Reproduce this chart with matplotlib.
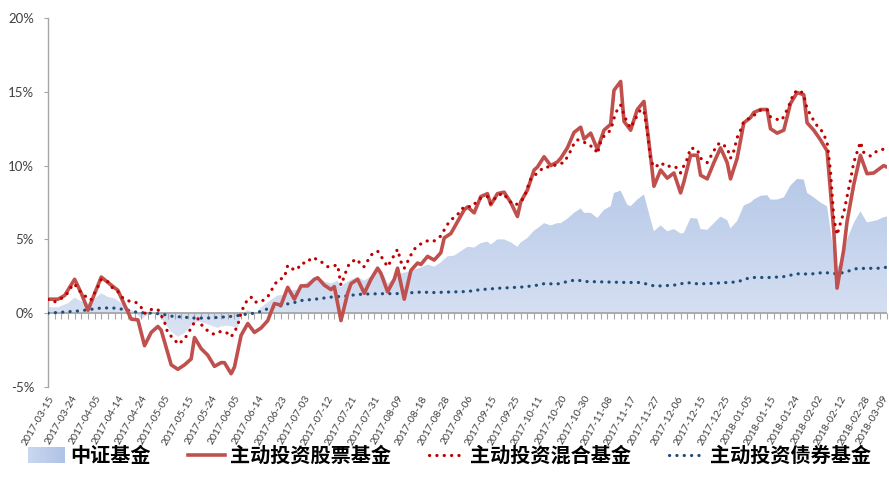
import numpy as np
import matplotlib
matplotlib.use("Agg")
import matplotlib.pyplot as plt
import matplotlib.transforms as mtransforms
from matplotlib.colors import LinearSegmentedColormap
from matplotlib.patches import Polygon
from matplotlib.lines import Line2D

# ---------------- data ----------------
label_dates = ["2017-03-15", "2017-03-24", "2017-04-05", "2017-04-14", "2017-04-24", "2017-05-05",
               "2017-05-15", "2017-05-24", "2017-06-05", "2017-06-14", "2017-06-23", "2017-07-03",
               "2017-07-12", "2017-07-21", "2017-07-31", "2017-08-09", "2017-08-18", "2017-08-28",
               "2017-09-06", "2017-09-15", "2017-09-25", "2017-10-11", "2017-10-20", "2017-10-30",
               "2017-11-08", "2017-11-17", "2017-11-27", "2017-12-06", "2017-12-15", "2017-12-25",
               "2018-01-05", "2018-01-15", "2018-01-24", "2018-02-02", "2018-02-12", "2018-02-28",
               "2018-03-09"]
label_every = 7          # trading days between labels
n_days = 252             # trading day index of last label

series_names = ["中证基金", "主动投资股票基金", "主动投资混合基金", "主动投资债券基金"]

# trading-day index and cumulative return (%)
csi_day = [0, 3, 6, 8, 10, 12, 13, 16, 18, 20, 22, 24, 26, 28, 30, 31, 33, 35, 37, 39, 41, 43, 45, 47,
           49, 51, 52, 54, 55, 57, 58, 60, 61, 63, 64, 67, 69, 71, 73, 75, 77, 79, 81, 83, 85, 87, 88,
           89, 91, 93, 95, 97, 99, 101, 102, 104, 106, 108, 110, 112, 114, 116, 118, 120, 122, 124,
           126, 128, 130, 132, 133, 135, 137, 139, 141, 142, 144, 146, 147, 149, 151, 153, 154, 156,
           158, 160, 161, 163, 165, 167, 169, 170, 172, 174, 175, 177, 179, 181, 182, 184, 186, 188,
           190, 191, 193, 195, 196, 198, 200, 202, 204, 205, 207, 209, 211, 212, 214, 216, 217, 219,
           221, 223, 225, 227, 228, 230, 232, 234, 236, 237, 239, 240, 242, 244, 246, 247, 249, 251, 252]
csi_ret = [0.4, 0.4, 0.68, 1.05, 0.8, 0.65, 0.8, 1.35, 1.1, 1.0, 0.68, 0.35, 0.1, -0.4, -0.1, 0.0, 0.0,
           -0.68, -1.25, -1.6, -1.35, -0.85, -0.55, -0.68, -0.85, -1.0, -0.9, -0.85, -0.9, -1.0, -0.1,
           0.22, 0.1, 0.05, 0.4, 0.9, 1.2, 1.25, 1.55, 1.58, 2.0, 2.26, 2.45, 2.15, 2.0, 2.2, 1.76, 2.0,
           2.26, 2.45, 2.2, 2.5, 2.8, 2.55, 2.0, 2.4, 2.7, 2.8, 2.95, 3.1, 3.3, 3.15, 3.45, 3.85, 3.9,
           4.2, 4.5, 4.45, 4.75, 4.85, 4.65, 5.0, 5.0, 4.8, 4.5, 4.8, 5.1, 5.6, 5.75, 6.1, 5.95, 6.1,
           6.1, 6.4, 6.8, 7.1, 6.8, 6.8, 6.45, 7.0, 7.25, 8.15, 8.3, 7.35, 7.25, 7.7, 8.05, 6.35, 5.55,
           5.95, 5.55, 5.7, 5.4, 5.45, 6.45, 6.4, 5.7, 5.65, 6.1, 6.55, 6.3, 5.75, 6.25, 7.3, 7.5, 7.7,
           7.95, 8.0, 7.7, 7.7, 7.85, 8.65, 9.1, 9.05, 8.15, 7.85, 7.5, 7.25, 4.05, 3.05, 3.85, 5.0,
           6.1, 6.9, 6.15, 6.2, 6.3, 6.5, 6.55]

stock_day = [0, 3, 5, 8, 10, 12, 16, 19, 21, 23, 25, 27, 29, 31, 33, 34, 37, 39, 41, 43, 44, 46, 48,
             50, 52, 53, 55, 56, 58, 60, 62, 64, 66, 68, 70, 72, 74, 76, 78, 80, 81, 83, 85, 86, 88,
             90, 91, 93, 95, 97, 99, 100, 102, 104, 105, 107, 109, 111, 112, 114, 116, 118, 119, 121,
             123, 125, 126, 128, 130, 132, 133, 135, 137, 139, 141, 142, 144, 146, 147, 149, 151, 153,
             154, 156, 158, 160, 161, 163, 165, 167, 169, 170, 172, 173, 175, 177, 179, 181, 182, 184,
             186, 188, 190, 191, 193, 195, 196, 198, 200, 202, 204, 205, 207, 209, 211, 212, 214, 216,
             217, 219, 221, 223, 225, 227, 228, 230, 232, 234, 236, 237, 239, 240, 242, 244, 246, 248,
             251, 252]
stock_ret = [0.95, 0.95, 1.2, 2.3, 1.35, 0.2, 2.45, 1.9, 1.55, 0.55, -0.4, -0.45, -2.2, -1.3, -0.9,
             -1.15, -3.5, -3.8, -3.5, -3.1, -1.65, -2.4, -2.85, -3.6, -3.35, -3.35, -4.1, -3.65, -1.5,
             -0.7, -1.3, -1.0, -0.5, 0.65, 0.55, 1.75, 0.95, 1.85, 1.85, 2.3, 2.4, 1.9, 1.6, 1.8, -0.5,
             1.35, 2.0, 2.3, 1.35, 2.3, 3.05, 2.7, 1.45, 2.3, 3.05, 0.95, 2.9, 3.4, 3.3, 3.85, 3.6, 4.1,
             5.1, 5.4, 6.2, 7.0, 7.2, 6.8, 7.9, 8.1, 7.35, 8.1, 8.2, 7.5, 6.55, 7.55, 8.35, 9.7, 9.9,
             10.6, 10.0, 10.25, 10.5, 11.2, 12.25, 12.6, 11.8, 12.2, 11.1, 12.4, 12.8, 15.1, 15.7, 13.0,
             12.4, 13.8, 14.35, 10.6, 8.6, 9.7, 9.15, 9.5, 8.15, 8.9, 10.7, 10.7, 9.35, 9.1, 10.2, 11.2,
             10.2, 9.1, 10.5, 12.9, 13.25, 13.6, 13.8, 13.8, 12.5, 12.2, 12.4, 14.2, 14.95, 14.8, 12.9,
             12.4, 11.75, 11.0, 5.65, 1.7, 4.3, 6.2, 8.7, 10.7, 9.45, 9.5, 10.0, 9.9]

mixed_day = [0, 2, 4, 6, 7, 8, 9, 11, 12, 13, 14, 15, 16, 18, 19, 21, 22, 24, 26, 27, 28, 29, 31, 33,
             34, 35, 36, 38, 39, 41, 42, 43, 44, 45, 46, 47, 49, 50, 52, 54, 55, 56, 57, 58, 59, 60,
             61, 62, 64, 66, 68, 69, 71, 72, 74, 75, 76, 78, 79, 81, 83, 84, 87, 88, 89, 90, 91, 93,
             94, 95, 96, 97, 99, 100, 102, 103, 104, 105, 106, 107, 108, 109, 110, 111, 113, 115, 116,
             118, 119, 120, 121, 123, 124, 126, 127, 130, 132, 133, 135, 137, 138, 140, 141, 143, 144,
             145, 147, 149, 150, 152, 153, 155, 156, 157, 158, 159, 161, 162, 164, 165, 166, 167, 169,
             170, 171, 172, 173, 174, 175, 176, 178, 179, 180, 181, 182, 183, 184, 186, 187, 189, 190,
             191, 192, 193, 195, 196, 198, 199, 201, 202, 204, 205, 206, 207, 208, 209, 211, 212, 214,
             216, 217, 220, 221, 222, 223, 224, 226, 227, 228, 229, 230, 231, 232, 233, 234, 235, 236,
             237, 238, 239, 240, 241, 242, 243, 244, 245, 247, 248, 250, 252]
mixed_ret = [0.93, 0.77, 1.0, 1.38, 1.79, 2.0, 1.6, 1.22, 0.93, 0.93, 1.38, 1.79, 2.29, 2.13, 1.79,
             1.45, 1.11, 0.84, 0.77, 0.66, 0.39, -0.02, 0.25, 0.25, -0.14, -0.6, -1.36, -1.77, -2.1,
             -1.77, -1.36, -1.02, -0.6, -0.36, -0.75, -1.02, -1.36, -1.43, -1.22, -1.36, -1.6, -1.27,
             -0.82, 0.07, 0.54, 0.95, 1.09, 0.75, 0.77, 1.11, 1.9, 2.24, 2.42, 3.24, 2.92, 3.0, 3.38,
             3.42, 3.76, 3.65, 3.33, 3.15, 3.26, 1.9, 2.5, 3.15, 3.49, 3.65, 3.21, 3.15, 3.55, 3.94,
             4.21, 3.87, 3.15, 3.55, 3.94, 4.33, 3.49, 3.04, 3.49, 3.94, 4.33, 4.55, 4.84, 4.96, 4.9,
             5.23, 5.64, 6.02, 6.32, 6.66, 7.04, 7.27, 7.18, 7.8, 7.9, 7.4, 8.0, 8.1, 7.7, 7.33, 7.4,
             7.8, 8.5, 9.1, 9.5, 9.9, 9.9, 10.0, 10.1, 10.2, 10.6, 11.0, 11.5, 11.75, 11.6, 11.4, 11.25,
             10.8, 11.6, 12.0, 12.4, 13.2, 13.8, 14.1, 13.45, 12.9, 12.55, 13.0, 13.8, 13.7, 12.3, 10.4,
             9.9, 10.0, 10.2, 9.9, 10.0, 9.85, 9.5, 10.0, 10.45, 11.2, 11.1, 10.5, 10.2, 10.6, 11.4,
             11.55, 11.2, 10.5, 11.0, 11.9, 12.4, 13.0, 13.25, 13.4, 13.75, 13.8, 13.3, 13.05, 13.3,
             13.8, 14.3, 14.95, 15.1, 14.75, 13.85, 13.45, 13.05, 12.7, 12.5, 12.1, 11.6, 9.7, 6.5,
             5.3, 6.1, 6.8, 7.9, 9.0, 10.2, 10.9, 11.6, 10.9, 10.65, 10.85, 11.1, 11.1]

bond_day = [0, 9, 11, 15, 19, 23, 27, 31, 34, 37, 44, 48, 52, 56, 60, 62, 64, 66, 68, 70, 72, 74, 76,
            78, 81, 85, 89, 93, 97, 105, 112, 116, 120, 126, 130, 136, 143, 147, 149, 153, 157, 159,
            161, 174, 178, 182, 184, 188, 192, 194, 198, 207, 211, 217, 221, 225, 229, 233, 237, 239,
            243, 250, 252]
bond_ret = [0.0, 0.15, 0.2, 0.33, 0.37, 0.25, 0.05, 0.0, -0.05, -0.2, -0.33, -0.33, -0.27, -0.2,
            -0.05, 0.0, 0.13, 0.3, 0.45, 0.5, 0.63, 0.72, 0.86, 0.9, 0.97, 1.09, 1.15, 1.27, 1.31,
            1.33, 1.43, 1.4, 1.43, 1.47, 1.6, 1.7, 1.78, 1.9, 2.0, 1.98, 2.2, 2.25, 2.15, 2.08, 2.08,
            1.85, 1.85, 1.9, 2.08, 2.0, 2.0, 2.12, 2.42, 2.42, 2.48, 2.67, 2.65, 2.76, 2.67, 2.76,
            3.03, 3.05, 3.12]

y_ticks = [-5, 0, 5, 10, 15, 20]

# ---------------- style ----------------
W, H = 889, 491
fig = plt.figure(figsize=(W / 100, H / 100), dpi=100)
ax = fig.add_axes([48 / W, 1 - 387 / H, 839 / W, 369 / H])

axis_grey = "#A6A6A6"
text_col = "#404040"
c_stock = "#C0504D"
c_mixed = "#C00000"
c_bond = "#1F4E79"
grad_cmap = LinearSegmentedColormap.from_list("g", ["#DCE4F4", "#B4C7E7"])

# gradient area for 中证基金
verts = list(zip(csi_day, csi_ret)) + [(csi_day[-1], 0), (csi_day[0], 0)]
poly = Polygon(verts, closed=True, facecolor="none", edgecolor="none")
ax.add_patch(poly)
grad = np.linspace(0, 1, 256).reshape(-1, 1)
img = ax.imshow(grad, extent=[0, n_days, -2, 10], origin="lower", aspect="auto",
                cmap=grad_cmap, zorder=1, interpolation="bilinear")
img.set_clip_path(poly)

# zero axis line and tick marks
ax.axhline(0, color=axis_grey, lw=1.3, zorder=2)
tick_pos = np.arange(0, n_days + 1, 2)
ax.plot(tick_pos, np.zeros_like(tick_pos), linestyle="none", marker=3, markersize=4,
        markeredgewidth=0.8, color=axis_grey, zorder=2, clip_on=False)

ax.plot(bond_day, bond_ret, color=c_bond, lw=2.3, linestyle=(0, (0.05, 2.25)),
        dash_capstyle="round", zorder=3)
ax.plot(stock_day, stock_ret, color=c_stock, lw=2.6, solid_joinstyle="round", zorder=4)
ax.plot(mixed_day, mixed_ret, color=c_mixed, lw=2.3, linestyle=(0, (0.05, 2.25)),
        dash_capstyle="round", zorder=5)

ax.set_xlim(0, n_days)
ax.set_ylim(-5, 20)

for s in ["top", "right", "bottom"]:
    ax.spines[s].set_visible(False)
ax.spines["left"].set_color(axis_grey)
ax.spines["left"].set_linewidth(1.0)

ax.set_yticks(y_ticks)
ax.set_yticklabels([f"{v}%" for v in y_ticks], fontsize=9.5, family="Lato", color=text_col)
ax.tick_params(axis="y", length=3, color=axis_grey, pad=7)

ax.set_xticks(np.arange(0, n_days + 1, label_every))
ax.set_xticklabels(label_dates, rotation=60, ha="right", va="top", rotation_mode="anchor",
                   fontsize=7.5, family="Lato", color=text_col)
ax.tick_params(axis="x", length=0, pad=5)
# keep the last label inside the canvas
last = ax.get_xticklabels()[-1]
last.set_transform(last.get_transform() +
                   mtransforms.ScaledTranslation(-5 / 100, 0, fig.dpi_scale_trans))

# ---------------- legend (manual, bottom row) ----------------
ly = 1 - 455 / H
lfont = dict(fontsize=14.5, fontweight="bold", family=["Noto Sans CJK SC", "DejaVu Sans"],
             color="#000000", va="center", ha="left")

# patch with gradient
pax = fig.add_axes([28 / W, 1 - 463 / H, 37 / W, 16 / H])
pax.imshow(np.linspace(0, 1, 64).reshape(1, -1), aspect="auto",
           cmap=LinearSegmentedColormap.from_list("p", ["#CAD7EF", "#AFC3E6"]))
pax.axis("off")
fig.text(70 / W, ly, series_names[0], **lfont)

fig.add_artist(Line2D([188 / W, 225 / W], [ly, ly], color=c_stock, lw=2.6,
                      transform=fig.transFigure))
fig.text(230 / W, ly, series_names[1], **lfont)

fig.add_artist(Line2D([429 / W, 465 / W], [ly, ly], color=c_mixed, lw=2.3,
                      linestyle=(0, (0.05, 2.25)), dash_capstyle="round",
                      transform=fig.transFigure))
fig.text(470 / W, ly, series_names[2], **lfont)

fig.add_artist(Line2D([669 / W, 705 / W], [ly, ly], color=c_bond, lw=2.3,
                      linestyle=(0, (0.05, 2.25)), dash_capstyle="round",
                      transform=fig.transFigure))
fig.text(710 / W, ly, series_names[3], **lfont)

fig.savefig("out.png", dpi=100)
